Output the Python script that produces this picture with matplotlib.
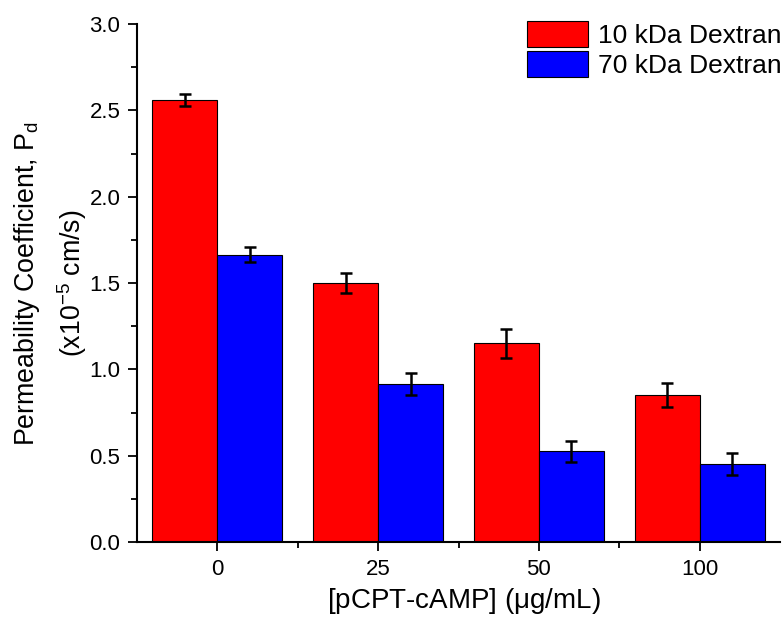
import numpy as np
import matplotlib
matplotlib.use('Agg')
import matplotlib.pyplot as plt
from matplotlib.ticker import FixedLocator, MultipleLocator, FormatStrFormatter

plt.rcParams['font.family'] = ['Liberation Sans', 'DejaVu Sans']
plt.rcParams['mathtext.fontset'] = 'custom'
plt.rcParams['mathtext.rm'] = 'Liberation Sans'
plt.rcParams['mathtext.it'] = 'Liberation Sans'

# data
concentrations = ['0', '25', '50', '100']
series_names = ['10 kDa Dextran', '70 kDa Dextran']
dex10 = [2.56, 1.50, 1.15, 0.85]
dex10_err = [0.037, 0.059, 0.085, 0.07]
dex70 = [1.665, 0.915, 0.525, 0.45]
dex70_err = [0.042, 0.063, 0.06, 0.063]
colors = ['#ff0000', '#0000ff']

fig = plt.figure(figsize=(7.82, 6.27), dpi=100)
ax = fig.add_axes([137 / 782, 85 / 627, 643 / 782, 518 / 627])

x = np.arange(len(concentrations))
w = 0.405
errkw = dict(ecolor='black', elinewidth=1.8, capsize=4.5, capthick=1.8)
ax.bar(x - w / 2, dex10, w, yerr=dex10_err, color=colors[0], edgecolor='black',
       linewidth=0.8, label=series_names[0], error_kw=errkw)
ax.bar(x + w / 2, dex70, w, yerr=dex70_err, color=colors[1], edgecolor='black',
       linewidth=0.8, label=series_names[1], error_kw=errkw)

ax.set_xlim(-0.5, 3.5)
ax.set_ylim(0, 3.0)
ax.set_xticks(x)
ax.set_xticklabels(concentrations)
ax.xaxis.set_minor_locator(FixedLocator([0.5, 1.5, 2.5]))
ax.yaxis.set_major_locator(MultipleLocator(0.5))
ax.yaxis.set_minor_locator(MultipleLocator(0.25))
ax.yaxis.set_major_formatter(FormatStrFormatter('%.1f'))

for s in ['top', 'right']:
    ax.spines[s].set_visible(False)
for s in ['left', 'bottom']:
    ax.spines[s].set_linewidth(1.5)

ax.tick_params(which='major', direction='out', length=6.5, width=1.3, labelsize=16, pad=5.5)
ax.tick_params(which='minor', direction='out', length=4, width=1.3)

ax.set_xlabel('[pCPT-cAMP] ($\\mu$g/mL)', fontsize=20)
ax.xaxis.set_label_coords(0.509, -0.114)
ax.xaxis.label.set_va('center')

ax.set_ylabel('Permeability Coefficient, P$_\\mathregular{d}$\n(x10$^\\mathregular{-5}$ cm/s)',
              fontsize=19.3, linespacing=1.5)
ax.yaxis.set_label_coords(-0.134, 0.5)
ax.yaxis.label.set_va('center')

leg = ax.legend(loc='upper left', bbox_to_anchor=(527 / 782, 1 - 21 / 627),
                bbox_transform=fig.transFigure, frameon=False, fontsize=19,
                handlelength=2.3, handleheight=1.15, handletextpad=0.4,
                labelspacing=0.1, borderpad=0, borderaxespad=0)

fig.savefig('out.png', dpi=100)
